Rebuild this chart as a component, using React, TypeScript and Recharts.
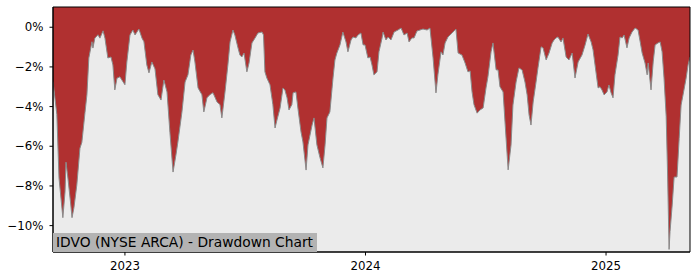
import { Area, AreaChart, CartesianGrid, ReferenceArea, XAxis, YAxis } from 'recharts'

// time as decimal years, drawdown in percent
const years = [
  2022.701, 2022.717, 2022.726, 2022.742, 2022.751, 2022.755, 2022.763, 2022.775, 2022.78, 2022.788,
  2022.8, 2022.813, 2022.821, 2022.834, 2022.842, 2022.85, 2022.863, 2022.867, 2022.875, 2022.888,
  2022.896, 2022.909, 2022.917, 2022.929, 2022.942, 2022.95, 2022.958, 2022.967, 2022.979, 2022.992,
  2023.0, 2023.008, 2023.021, 2023.033, 2023.042, 2023.05, 2023.058, 2023.071, 2023.079, 2023.091,
  2023.1, 2023.112, 2023.125, 2023.137, 2023.15, 2023.162, 2023.175, 2023.187, 2023.2, 2023.212,
  2023.22, 2023.237, 2023.25, 2023.262, 2023.274, 2023.283, 2023.291, 2023.304, 2023.32, 2023.328,
  2023.341, 2023.353, 2023.366, 2023.383, 2023.395, 2023.403, 2023.416, 2023.428, 2023.437, 2023.449,
  2023.457, 2023.47, 2023.478, 2023.486, 2023.495, 2023.507, 2023.516, 2023.528, 2023.541, 2023.553,
  2023.57, 2023.576, 2023.582, 2023.59, 2023.603, 2023.615, 2023.624, 2023.632, 2023.645, 2023.657,
  2023.665, 2023.674, 2023.682, 2023.694, 2023.699, 2023.711, 2023.719, 2023.732, 2023.74, 2023.753,
  2023.761, 2023.778, 2023.786, 2023.798, 2023.811, 2023.823, 2023.832, 2023.84, 2023.852, 2023.865,
  2023.873, 2023.881, 2023.894, 2023.906, 2023.919, 2023.927, 2023.94, 2023.948, 2023.96, 2023.969,
  2023.981, 2023.99, 2023.998, 2024.01, 2024.019, 2024.027, 2024.035, 2024.048, 2024.056, 2024.069,
  2024.073, 2024.085, 2024.094, 2024.106, 2024.119, 2024.135, 2024.148, 2024.16, 2024.173, 2024.181,
  2024.193, 2024.202, 2024.214, 2024.227, 2024.239, 2024.256, 2024.268, 2024.281, 2024.293, 2024.301,
  2024.314, 2024.322, 2024.331, 2024.343, 2024.36, 2024.376, 2024.385, 2024.401, 2024.414, 2024.426,
  2024.435, 2024.443, 2024.451, 2024.464, 2024.476, 2024.489, 2024.501, 2024.509, 2024.522, 2024.53,
  2024.543, 2024.551, 2024.559, 2024.572, 2024.58, 2024.593, 2024.605, 2024.613, 2024.626, 2024.638,
  2024.651, 2024.663, 2024.672, 2024.68, 2024.688, 2024.697, 2024.709, 2024.717, 2024.73, 2024.738,
  2024.751, 2024.763, 2024.776, 2024.784, 2024.792, 2024.8, 2024.813, 2024.821, 2024.834, 2024.846,
  2024.859, 2024.871, 2024.884, 2024.9, 2024.913, 2024.925, 2024.938, 2024.946, 2024.958, 2024.967,
  2024.975, 2024.983, 2024.992, 2025.004, 2025.012, 2025.021, 2025.029, 2025.037, 2025.05, 2025.058,
  2025.067, 2025.075, 2025.087, 2025.096, 2025.108, 2025.121, 2025.133, 2025.142, 2025.15, 2025.162,
  2025.171, 2025.175, 2025.187, 2025.196, 2025.204, 2025.216, 2025.225, 2025.233, 2025.241, 2025.25,
  2025.256, 2025.262, 2025.266, 2025.275, 2025.283, 2025.295, 2025.304, 2025.312, 2025.32, 2025.333,
  2025.341, 2025.349,
]

const drawdown = [
  -2.74, -4.4, -7.6, -9.6, -8.3, -6.8, -7.6, -8.96, -9.6, -9.1,
  -7.95, -6.1, -5.8, -4.3, -3.4, -1.55, -0.73, -1.05, -0.55, -0.38,
  -0.55, -0.18, -0.55, -1.55, -1.5, -1.9, -3.16, -2.57, -2.5, -2.75,
  -2.9, -1.75, -0.39, -0.14, -0.39, -0.24, -0.09, -0.55, -0.73, -1.9,
  -2.3, -1.75, -2.1, -3.4, -3.67, -2.66, -3.26, -5.3, -7.3, -6.44,
  -5.8, -4.27, -2.76, -2.4, -1.4, -1.15, -1.75, -3.06, -3.4, -4.27,
  -3.56, -3.4, -3.3, -3.77, -3.9, -4.57, -3.26, -1.9, -0.74, -0.14,
  -0.39, -1.04, -1.4, -1.5, -1.3, -2.25, -1.8, -0.79, -0.54, -0.29,
  -0.24, -0.39, -2.25, -2.56, -2.9, -3.9, -5.08, -4.68, -4.07, -3.06,
  -3.16, -3.56, -4.17, -3.9, -3.3, -3.26, -4.07, -5.28, -5.78, -7.2,
  -5.93, -4.93, -4.57, -5.93, -6.58, -7.09, -5.93, -4.57, -4.27, -2.56,
  -1.65, -1.3, -0.89, -0.24, -0.74, -1.24, -0.64, -0.49, -0.54, -0.39,
  -0.29, -0.89, -0.89, -1.55, -1.5, -1.9, -2.4, -2.25, -1.24, -0.54,
  -0.24, -0.64, -0.49, -0.64, -0.24, -0.14, -0.04, -0.39, -0.29, -0.74,
  -0.54, -0.54, -0.19, -0.14, -0.09, -0.14, -0.04, -1.55, -3.31, -2.4,
  -1.24, -1.4, -0.79, -0.49, -0.29, -0.09, -1.3, -1.4, -1.8, -2.25,
  -2.2, -3.26, -3.9, -4.33, -4.17, -4.07, -3.06, -2.5, -1.24, -0.79,
  -2.15, -2.15, -3.0, -3.26, -4.78, -7.19, -5.94, -3.92, -2.76, -2.05,
  -2.15, -2.76, -3.41, -4.42, -4.93, -3.77, -2.76, -2.05, -0.99, -1.04,
  -1.65, -1.3, -0.79, -0.64, -0.54, -0.49, -0.74, -0.54, -1.5, -1.65,
  -1.3, -2.56, -1.75, -1.4, -0.89, -0.34, -0.74, -1.14, -2.25, -3.06,
  -3.0, -3.16, -3.41, -3.26, -2.91, -3.31, -3.56, -2.4, -1.4, -0.49,
  -0.54, -0.39, -1.04, -0.54, -0.24, -0.04, -0.14, -0.74, -1.3, -1.8,
  -2.4, -1.8, -3.16, -1.75, -0.89, -0.79, -0.74, -1.24, -2.56, -4.5,
  -7.5, -11.2, -10.3, -8.96, -7.55, -7.55, -5.6, -3.92, -3.41, -2.56,
  -1.9, -1.5,
]

const yearTicks = [2023, 2024, 2025]
const pctTicks = [-10, -8, -6, -4, -2, 0]

const X_DOMAIN: [number, number] = [2022.701, 2025.349]
const Y_DOMAIN: [number, number] = [-11.33, 1.02]
const FONT = '"DejaVu Sans", sans-serif'

const data = years.map((t, i) => ({ t, dd: drawdown[i] }))

const fmtPct = (v: number) => (v === 0 ? '0%' : `\u2212${Math.abs(v)}%`)

export default function App() {
  return (
    <div style={{ position: 'absolute', left: 0, top: 0, width: 700, height: 280, background: '#fff' }}>
      <AreaChart width={700} height={280} data={data} margin={{ top: 7, right: 10, bottom: 0, left: 0 }}>
        <CartesianGrid horizontal={false} vertical={false} fill="#ebebeb" />
        <XAxis
          dataKey="t"
          type="number"
          domain={X_DOMAIN}
          ticks={yearTicks}
          tickFormatter={(v) => String(v)}
          height={28}
          tickSize={3.5}
          tickMargin={6}
          allowDataOverflow
          axisLine={{ stroke: '#000' }}
          tickLine={{ stroke: '#000' }}
          tick={{ fill: '#000', fontSize: 11.8, fontFamily: FONT }}
        />
        <YAxis
          type="number"
          domain={Y_DOMAIN}
          ticks={pctTicks}
          tickFormatter={fmtPct}
          width={53}
          tickSize={3.5}
          tickMargin={6}
          allowDataOverflow
          axisLine={{ stroke: '#000' }}
          tickLine={{ stroke: '#000' }}
          tick={{ fill: '#000', fontSize: 11.8, fontFamily: FONT }}
        />
        <Area
          dataKey="dd"
          type="linear"
          baseValue={Y_DOMAIN[1]}
          stroke="#8a8a8a"
          strokeWidth={1}
          fill="#b03030"
          fillOpacity={1}
          isAnimationActive={false}
        />
        <ReferenceArea
          x1={X_DOMAIN[0]}
          x2={X_DOMAIN[1]}
          y1={Y_DOMAIN[0]}
          y2={Y_DOMAIN[1]}
          fill="none"
          stroke="#000"
          strokeWidth={1}
        />
      </AreaChart>
      <div
        style={{
          position: 'absolute',
          left: 53,
          top: 233,
          width: 264,
          height: 19,
          background: '#b3b3b3',
          fontFamily: FONT,
          fontSize: 13.8,
          lineHeight: '19px',
          paddingLeft: 3,
          boxSizing: 'border-box',
          color: '#000',
          whiteSpace: 'nowrap',
        }}
      >
        IDVO (NYSE ARCA) - Drawdown Chart
      </div>
    </div>
  )
}
